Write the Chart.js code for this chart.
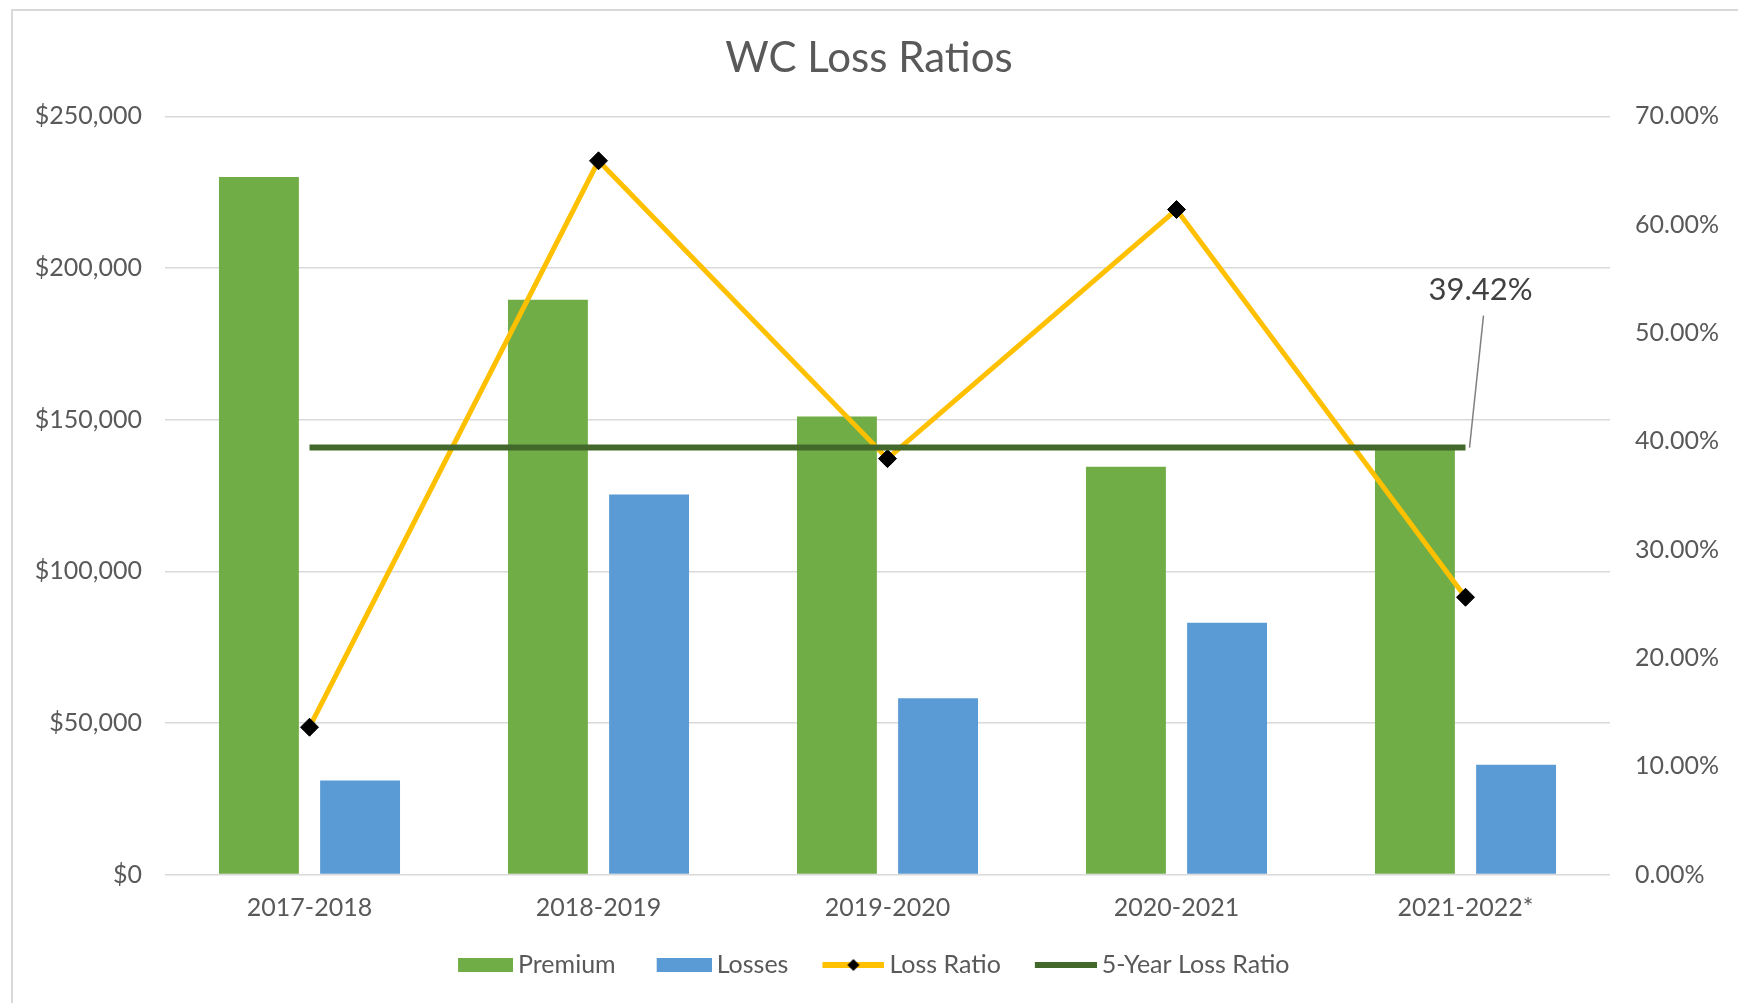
<!DOCTYPE html>
<html>
<head>
<meta charset="utf-8">
<title>WC Loss Ratios</title>
<script src="https://cdn.jsdelivr.net/npm/chart.js@4.4.1/dist/chart.umd.min.js"></script>
<style>
  html, body { margin: 0; padding: 0; background: #fff; }
  .frame {
    position: absolute; left: 11px; top: 9px; width: 1760px; height: 1020px;
    border: 2px solid #d9d9d9; box-sizing: border-box;
  }
  .wrap { position: absolute; left: 0; top: 0; width: 1738px; height: 1003px; }
</style>
</head>
<body>
<div class="frame"></div>
<div class="wrap"><canvas id="lossChart"></canvas></div>
<script>
const years = ["2017-2018", "2018-2019", "2019-2020", "2020-2021", "2021-2022*"];
const premium = [230000, 189500, 151000, 134500, 140500];
const losses = [31000, 125300, 58100, 83000, 36200];
const lossRatio = [13.6, 65.9, 38.4, 61.4, 25.6];
const fiveYear = [39.42, 39.42, 39.42, 39.42, 39.42];

const moneyTicks = [0, 50000, 100000, 150000, 200000, 250000];
const pctTicks = [0, 10, 20, 30, 40, 50, 60, 70];

const GREEN = "#70ad47";
const BLUE = "#5b9bd5";
const GOLD = "#ffc000";
const DARK = "#43682b";
const TEXT = "#595959";
const FONT = "Lato, 'DejaVu Sans', sans-serif";

// little legend swatches, drawn as images so they can be wide
const swatch = (kind, color) => {
  const c = document.createElement("canvas");
  c.width = 72;
  c.height = 24;
  const g = c.getContext("2d");
  if (kind === "box") {
    g.fillStyle = color;
    g.fillRect(72 - 55, 5, 55, 14);
  } else {
    g.strokeStyle = color;
    g.lineWidth = 6;
    g.beginPath();
    g.moveTo(72 - 62, 12);
    g.lineTo(72, 12);
    g.stroke();
    if (kind === "marker") {
      const cx = 72 - 31;
      g.fillStyle = "#000";
      g.beginPath();
      g.moveTo(cx - 6, 12);
      g.lineTo(cx, 6);
      g.lineTo(cx + 6, 12);
      g.lineTo(cx, 18);
      g.closePath();
      g.fill();
    }
  }
  return c;
};

const legendItems = [
  { text: "Premium", pointStyle: swatch("box", GREEN), datasetIndex: 2 },
  { text: "Losses", pointStyle: swatch("box", BLUE), datasetIndex: 3 },
  { text: "Loss Ratio", pointStyle: swatch("marker", GOLD), datasetIndex: 1 },
  { text: "5-Year Loss Ratio", pointStyle: swatch("line", DARK), datasetIndex: 0 },
];

// label + leader line for the 5-year ratio
const calloutPlugin = {
  id: "callout",
  afterDatasetsDraw(chart) {
    const meta = chart.getDatasetMeta(0);
    const last = meta.data[meta.data.length - 1];
    if (!last) return;
    const ctx = chart.ctx;
    ctx.save();
    ctx.strokeStyle = "#808080";
    ctx.lineWidth = 1.5;
    ctx.beginPath();
    ctx.moveTo(last.x + 4, last.y);
    ctx.lineTo(last.x + 18, last.y - 132);
    ctx.stroke();
    ctx.fillStyle = "#404040";
    ctx.font = "31px " + FONT;
    ctx.textAlign = "center";
    ctx.textBaseline = "middle";
    ctx.fillText(fiveYear[fiveYear.length - 1].toFixed(2) + "%", last.x + 15, last.y - 158);
    ctx.restore();
  },
};

const ctx = document.getElementById("lossChart").getContext("2d");

new Chart(ctx, {
  type: "bar",
  data: {
    labels: years,
    datasets: [
      {
        type: "line",
        label: "5-Year Loss Ratio",
        data: fiveYear,
        yAxisID: "y2",
        borderColor: DARK,
        backgroundColor: DARK,
        borderWidth: 6,
        pointRadius: 0,
        order: 0,
      },
      {
        type: "line",
        label: "Loss Ratio",
        data: lossRatio,
        yAxisID: "y2",
        borderColor: GOLD,
        backgroundColor: "#000",
        borderWidth: 5,
        pointStyle: "rectRot",
        pointRadius: 9,
        pointBackgroundColor: "#000",
        pointBorderColor: "#000",
        pointBorderWidth: 1,
        order: 1,
      },
      {
        label: "Premium",
        data: premium,
        yAxisID: "y",
        backgroundColor: GREEN,
        categoryPercentage: 0.7,
        barPercentage: 0.79,
        order: 2,
      },
      {
        label: "Losses",
        data: losses,
        yAxisID: "y",
        backgroundColor: BLUE,
        categoryPercentage: 0.7,
        barPercentage: 0.79,
        order: 3,
      },
    ],
  },
  options: {
    responsive: true,
    maintainAspectRatio: false,
    animation: false,
    layout: { padding: { top: 0, left: 0, right: 0, bottom: 15.5 } },
    plugins: {
      title: {
        display: true,
        text: "WC Loss Ratios",
        color: TEXT,
        font: { family: FONT, size: 42, weight: "normal" },
        padding: { top: 33, bottom: 33 },
      },
      legend: {
        display: true,
        position: "bottom",
        labels: {
          usePointStyle: true,
          pointStyleWidth: 57,
          padding: 31.5,
          color: TEXT,
          font: { family: FONT, size: 25 },
          generateLabels: () =>
            legendItems.map((it) => ({
              text: it.text,
              pointStyle: it.pointStyle,
              fillStyle: "transparent",
              strokeStyle: "transparent",
              lineWidth: 0,
              hidden: false,
              datasetIndex: it.datasetIndex,
              fontColor: TEXT,
            })),
        },
      },
      tooltip: { enabled: false },
    },
    scales: {
      x: {
        grid: { display: false, drawTicks: false },
        border: { display: false },
        ticks: {
          color: TEXT,
          font: { family: FONT, size: 25 },
          padding: 18,
        },
        afterFit: (scale) => {
          scale.height = 46.5;
        },
      },
      y: {
        position: "left",
        min: 0,
        max: 250000,
        afterBuildTicks: (scale) => {
          scale.ticks = moneyTicks.map((v) => ({ value: v }));
        },
        grid: { color: "#d9d9d9", lineWidth: 1.5, drawTicks: false },
        border: { display: false },
        ticks: {
          color: TEXT,
          font: { family: FONT, size: 25 },
          padding: 23,
          callback: (v) => "$" + Number(v).toLocaleString("en-US"),
        },
        afterFit: (scale) => {
          scale.width = 165;
        },
      },
      y2: {
        position: "right",
        min: 0,
        max: 70,
        afterBuildTicks: (scale) => {
          scale.ticks = pctTicks.map((v) => ({ value: v }));
        },
        grid: { display: false, drawTicks: false },
        border: { display: false },
        ticks: {
          color: TEXT,
          font: { family: FONT, size: 25 },
          padding: 25,
          callback: (v) => Number(v).toFixed(2) + "%",
        },
        afterFit: (scale) => {
          scale.width = 128;
        },
      },
    },
  },
  plugins: [calloutPlugin],
});
</script>
</body>
</html>
